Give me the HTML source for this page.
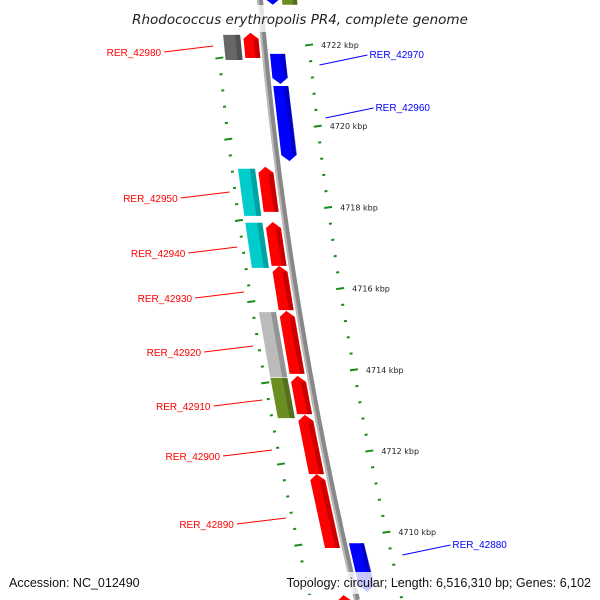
<!DOCTYPE html>
<html><head><meta charset="utf-8"><style>
html,body{margin:0;padding:0;background:#fff;width:600px;height:600px;overflow:hidden;}
svg{display:block;font-family:"DejaVu Sans","Liberation Sans",sans-serif;overflow:hidden;}
</style></head><body>
<svg id="map" width="600" height="600" viewBox="0 0 600 600" xmlns="http://www.w3.org/2000/svg">
<g id="backbone-layer"></g>
<g id="tick-layer"></g>
<g id="gene-layer"></g>
<g id="label-layer"></g>
<rect x="0" y="5" width="600" height="27" fill="#fff" opacity="0.78"/>
<text x="300" y="24" text-anchor="middle" font-size="13.5" font-style="italic" fill="#222">Rhodococcus erythropolis PR4, complete genome</text>
<rect x="0" y="572" width="600" height="22" fill="#fff" opacity="0.78"/>
<text x="9" y="587" font-size="12.5" font-family="Liberation Sans, sans-serif" fill="#111">Accession: NC_012490</text>
<text x="591" y="587" text-anchor="end" font-size="12.5" font-family="Liberation Sans, sans-serif" fill="#111">Topology: circular; Length: 6,516,310 bp; Genes: 6,102</text>
</svg>
<script>
const tickKbp = [4722, 4720, 4718, 4716, 4714, 4712, 4710, 4708];
const tickLabels = ["4722 kbp","4720 kbp","4718 kbp","4716 kbp","4714 kbp","4712 kbp","4710 kbp",""];
const geneStarts = [4722.30,4719.00,4717.64,4716.56,4715.45,4713.85,4712.89,4711.43,4708.45,4722.25,4718.95,4717.62,4715.42,4713.80,4723.6,4723.6,4721.78,4720.99,4709.73];
const geneEnds   = [4721.68,4717.89,4716.56,4715.47,4713.90,4712.91,4711.43,4709.61,4707.84,4721.63,4717.79,4716.51,4713.82,4712.81,4722.99,4722.99,4721.04,4719.14,4708.53];
const geneLanes  = ["in","in","in","in","in","in","in","in","in","out","out","out","out","out","rin","rout","rin","rin","rin"];
const geneColors = ["#ff0000","#ff0000","#ff0000","#ff0000","#ff0000","#ff0000","#ff0000","#ff0000","#ff0000","#666666","#00cccc","#00cccc","#bbbbbb","#6b8e23","#0000ff","#6b8e23","#0000ff","#0000ff","#0000ff"];
const geneArrow  = ["up","up","up","up","up","up","up","up","up","none","none","none","none","none","down","none","down","down","down"];
const geneNames  = ["RER_42980","RER_42950","RER_42940","RER_42930","RER_42920","RER_42910","RER_42900","RER_42890","","","","","","","","","RER_42970","RER_42960","RER_42880"];
const labelY     = [55,201,256,301,355,409,459,527,0,0,0,0,0,0,0,0,57,110,547];

const NS="http://www.w3.org/2000/svg";
function yOf(k){return 45+(4722-k)*40.6;}
function bx(y){return 260+0.085*y+1.278e-4*y*y;}
function mk(tag,attrs,parent){const e=document.createElementNS(NS,tag);for(const k in attrs)e.setAttribute(k,attrs[k]);parent.appendChild(e);return e;}
const bl=document.getElementById('backbone-layer');
let d="";for(let y=-10;y<=600;y+=10){d+=(y===-10?"M":"L")+bx(y).toFixed(1)+" "+y;}
let p1=mk('path',{d:d,stroke:"#888",'stroke-width':6,fill:"none"},bl);


let p2=mk('path',{d:d,stroke:"#bbb",'stroke-width':2,fill:"none",transform:"translate(-2,0)"},bl);



const tl=document.getElementById('tick-layer');
for(let i=0;i<tickKbp.length;i++){
  for(let j=0;j<5;j++){
    const k=tickKbp[i]-j*0.4;const y=yOf(k);const major=j===0;
    if(y<600){
    let r=mk('rect',{x:bx(y)+45-(major?4:1.5),y:y-1,width:major?8:3,height:2,fill:"#1a8a1a",transform:`rotate(-8 ${bx(y)+45} ${y})`},tl);
    
    
    }
    const yl=y+13;
    if(yl<600){
    let r2=mk('rect',{x:bx(yl)-46-(major?4:1.5),y:yl-1,width:major?8:3,height:2,fill:"#1a8a1a",transform:`rotate(-8 ${bx(yl)-46} ${yl})`},tl);
    
    
    }
    if(major&&tickLabels[i]){
      let t=mk('text',{x:bx(y)+57,y:y+3,'font-size':8,fill:"#222"},tl);t.textContent=tickLabels[i];
      
      
    }
  }
}
const laneOff={in:[-20,-5],out:[-40,-23],rin:[5,20],rout:[22,37]};
function shade(c){const n=parseInt(c.slice(1),16);const f=0.65;return "rgb("+Math.round((n>>16)*f)+","+Math.round(((n>>8)&255)*f)+","+Math.round((n&255)*f)+")";}
const gl=document.getElementById('gene-layer');
const ll=document.getElementById('label-layer');
for(let i=0;i<geneStarts.length;i++){
  const ya=yOf(geneStarts[i]),yb=Math.min(yOf(geneEnds[i]),600);
  const [o1,o2]=laneOff[geneLanes[i]];
  const A=bx(ya),B=bx(yb);const tip=6;
  let pts;
  if(geneArrow[i]==="up"){
    const yt=ya+tip;const mid=(o1+o2)/2;
    pts=[[A+mid,ya],[bx(yt)+o2,yt],[B+o2,yb],[B+o1,yb],[bx(yt)+o1,yt]];
  }else if(geneArrow[i]==="down"){
    const yt=yb-tip;const mid=(o1+o2)/2;
    pts=[[A+o1,ya],[A+o2,ya],[bx(yt)+o2,yt],[B+mid,yb],[bx(yt)+o1,yt]];
  }else{
    pts=[[A+o1,ya],[A+o2,ya],[B+o2,yb],[B+o1,yb]];
  }
  const g=mk('g',{},gl);
  
  
  mk('polygon',{points:pts.map(p=>p[0].toFixed(1)+","+p[1].toFixed(1)).join(" "),fill:geneColors[i]},g);
  const sx=(o2-o1)*0.3;
  mk('polygon',{points:[[A+o2-sx,ya+(geneArrow[i]==="up"?tip:0)],[A+o2,ya+(geneArrow[i]==="up"?tip:0)],[B+o2,yb-(geneArrow[i]==="down"?tip:0)],[B+o2-sx,yb-(geneArrow[i]==="down"?tip:0)]].map(p=>p[0].toFixed(1)+","+p[1].toFixed(1)).join(" "),fill:shade(geneColors[i]),opacity:0.6},g);
  if(geneNames[i]){
    const gy=(ya+yb)/2;const left=geneLanes[i]==="in";
    const col=left?"#ff0000":"#0000ff";
    const ly=labelY[i];
    let t,ln;
    if(left){
      const lx=bx(gy)-47-4;
      t=mk('text',{x:lx-52,y:ly+1,'text-anchor':'end','font-size':10,'font-family':'Liberation Sans, sans-serif',fill:col},ll);
      ln=mk('line',{x1:lx-49,y1:ly-3,x2:lx,y2:ly-9,stroke:col,'stroke-width':1},ll);
    }else{
      const lx=bx(gy)+45+8;
      t=mk('text',{x:lx+50,y:ly+1,'font-size':10,'font-family':'Liberation Sans, sans-serif',fill:col},ll);
      ln=mk('line',{x1:lx,y1:ly+8,x2:lx+48,y2:ly-2,stroke:col,'stroke-width':1},ll);
    }
    
    
    t.textContent=geneNames[i];
    
    
  }
}
</script>
</body></html>
